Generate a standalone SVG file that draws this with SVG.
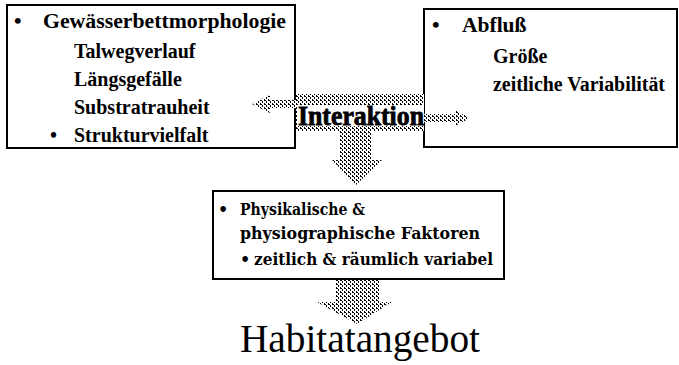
<svg xmlns="http://www.w3.org/2000/svg" width="679" height="365" viewBox="0 0 679 365">
<style>
.box{fill:#fff;stroke:#000;stroke-width:2}
.b{font-family:"Liberation Serif","Times New Roman",serif;font-weight:bold;fill:#000}
.h{font-size:21.5px}
.s{font-size:20px}
.m{font-family:"DejaVu Serif","Liberation Serif",serif;font-weight:bold;font-size:16px;fill:#000}
.big{font-family:"Liberation Serif","Times New Roman",serif;font-size:39px;fill:#000}
.arr{fill:url(#ht);stroke:none}
.ia{stroke:#000;stroke-width:0.8}
</style>
<defs>
<pattern id="ht" width="4" height="4" patternUnits="userSpaceOnUse">
<rect width="4" height="4" fill="#fff"/>
<rect x="0" y="0" width="2" height="1" fill="#000"/>
<rect x="2" y="1" width="1" height="2" fill="#000"/>
<rect x="0" y="3" width="1" height="1" fill="#000"/>
</pattern>
</defs>
<rect width="679" height="365" fill="#fff"/>
<g id="gewaesserbett">
<rect class="box" x="7" y="5" width="288" height="143"/>
<text class="b h" x="14" y="28">•</text>
<text class="b h" x="43" y="28" textLength="243" lengthAdjust="spacingAndGlyphs">Gewässerbettmorphologie</text>
<text class="b s" x="74" y="58">Talwegverlauf</text>
<text class="b s" x="74" y="86">Längsgefälle</text>
<text class="b s" x="74" y="114">Substratrauheit</text>
<text class="b s" x="50" y="142">•</text>
<text class="b s" x="74" y="142">Strukturvielfalt</text>
</g>
<g id="abfluss">
<rect class="box" x="424" y="9" width="253" height="138"/>
<text class="b h" x="432" y="32">•</text>
<text class="b h" x="462" y="32">Abfluß</text>
<text class="b s" x="493" y="63">Größe</text>
<text class="b s" x="493" y="91" textLength="172" lengthAdjust="spacingAndGlyphs">zeitliche Variabilität</text>
</g>
<g id="connectors">
<polygon class="arr" points="296,100 270,100 270,95 252,104 270,113 270,108 296,108"/>
<rect class="arr" x="296" y="94" width="128" height="37"/>
<polygon class="arr" points="424,114 455,114 455,110 470,118 455,126 455,122 424,122"/>
<polygon class="arr" points="340,131 372,131 372,160 382,160 356,185 332,160 340,160"/>
<polygon class="arr" points="335,280 380,280 380,302 392,302 357,324 317,302 335,302"/>
</g>
<g id="interaktion">
<rect x="297" y="105" width="126" height="21" fill="#fff"/>
<text class="b ia" x="298" y="125" font-size="27" textLength="126" lengthAdjust="spacingAndGlyphs">Interaktion</text>
</g>
<g id="faktoren">
<rect class="box" x="213" y="191" width="291" height="88"/>
<text class="m" x="218" y="215">•</text>
<text class="m" x="240" y="215" textLength="125" lengthAdjust="spacingAndGlyphs">Physikalische &amp;</text>
<text class="m" x="240" y="239" textLength="240" lengthAdjust="spacingAndGlyphs">physiographische Faktoren</text>
<text class="m" x="240" y="265">•</text>
<text class="m" x="254" y="265" textLength="239" lengthAdjust="spacingAndGlyphs">zeitlich &amp; räumlich variabel</text>
</g>
<g id="habitatangebot">
<text class="big" x="240" y="352" textLength="240" lengthAdjust="spacingAndGlyphs">Habitatangebot</text>
</g>
</svg>
